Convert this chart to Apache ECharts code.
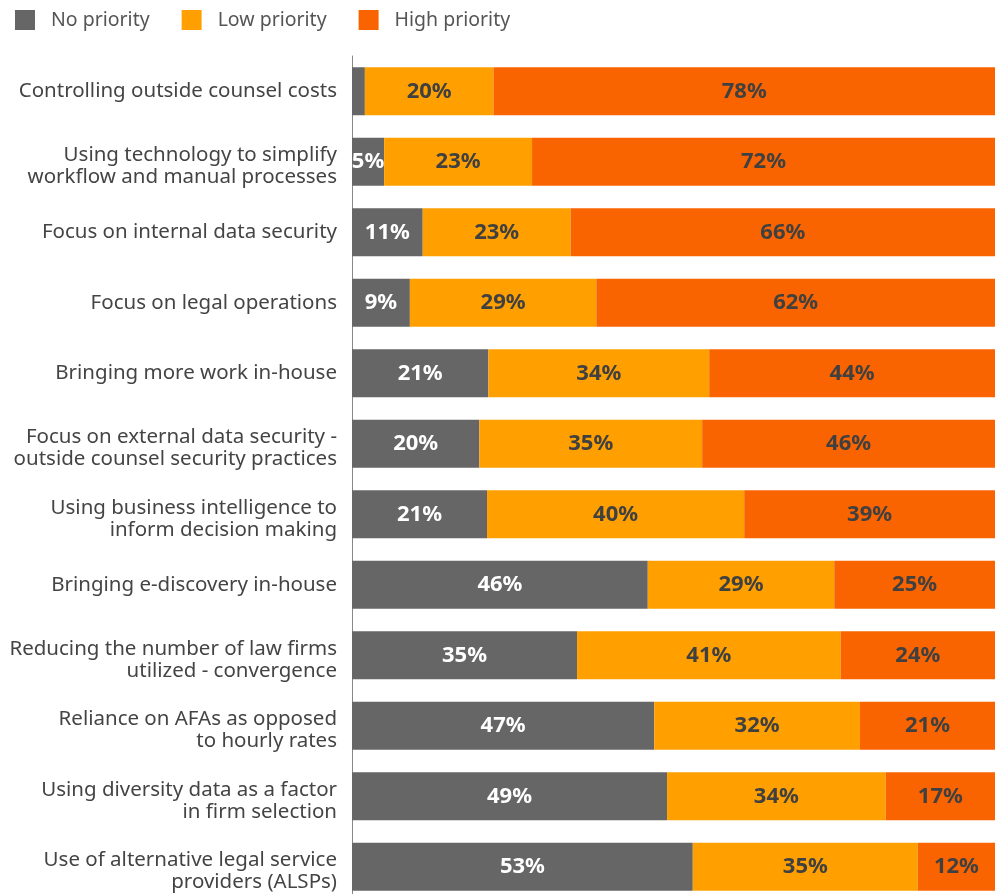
<!DOCTYPE html>
<html><head><meta charset="utf-8">
<script src="https://cdn.jsdelivr.net/npm/echarts@6/dist/echarts.min.js"></script>
<style>html,body{margin:0;padding:0;background:#fff;overflow:hidden}#c{width:997px;height:910px}</style>
</head><body><div id="c"></div>
<script>
const categories = [
  'Controlling outside counsel costs',
  'Using technology to simplify\nworkflow and manual processes',
  'Focus on internal data security',
  'Focus on legal operations',
  'Bringing more work in-house',
  'Focus on external data security -\noutside counsel security practices',
  'Using business intelligence to\ninform decision making',
  'Bringing e-discovery in-house',
  'Reducing the number of law firms\nutilized - convergence',
  'Reliance on AFAs as opposed\nto hourly rates',
  'Using diversity data as a factor\nin firm selection',
  'Use of alternative legal service\nproviders (ALSPs)'
];
const noPriority   = [2, 5, 11, 9, 21, 20, 21, 46, 35, 47, 49, 53];
const lowPriority  = [20, 23, 23, 29, 34, 35, 40, 29, 41, 32, 34, 35];
const highPriority = [78, 72, 66, 62, 44, 46, 39, 25, 24, 21, 17, 12];
const seriesNames = ['No priority', 'Low priority', 'High priority'];
const colors = ['#666666', '#FFA000', '#FA6400'];
const labelColors = ['#ffffff', '#404040', '#404040'];

const raw = [noPriority, lowPriority, highPriority];
const totals = categories.map((_, i) => noPriority[i] + lowPriority[i] + highPriority[i]);

const chart = echarts.init(document.getElementById('c'));
chart.setOption({
  animation: false,
  color: colors,
  legend: {
    left: 10, top: 5, itemWidth: 20, itemHeight: 20, itemGap: 32,
    icon: 'rect',
    textStyle: { fontFamily: 'Noto Sans', fontSize: 19.5, color: '#555', padding: [0, 0, 0, 11] },
    data: seriesNames
  },
  grid: { left: 352, right: 2, top: 56, height: 846, containLabel: false },
  xAxis: { type: 'value', min: 0, max: 100, show: false },
  yAxis: {
    type: 'category', data: categories, inverse: true,
    axisLine: { show: true, lineStyle: { color: '#888', width: 1 } },
    axisTick: { show: false },
    axisLabel: {
      fontFamily: 'Noto Sans', fontSize: 20.5, color: '#444', lineHeight: 22, margin: 15, align: 'right',
      formatter: v => v.includes('\n')
        ? '{p| }\n' + v.split('\n').map(l => '{n|' + l + '}').join('\n')
        : '{n|' + v + '}',
      rich: {
        n: { fontFamily: 'Noto Sans', fontSize: 20.5, color: '#444', lineHeight: 22, align: 'right' },
        p: { fontSize: 1, lineHeight: 9 }
      }
    }
  },
  series: raw.map((arr, s) => ({
    name: seriesNames[s], type: 'bar', stack: 'total', barWidth: 48,
    itemStyle: { color: colors[s] },
    data: arr.map((v, i) => ({ value: v / totals[i] * 100 })),
    label: {
      show: true, position: 'inside',
      fontFamily: 'Noto Sans', fontWeight: 'bold', fontSize: 22, color: labelColors[s],
      formatter: p => (arr[p.dataIndex] >= 4 ? arr[p.dataIndex] + '%' : '')
    }
  }))
});
</script></body></html>
